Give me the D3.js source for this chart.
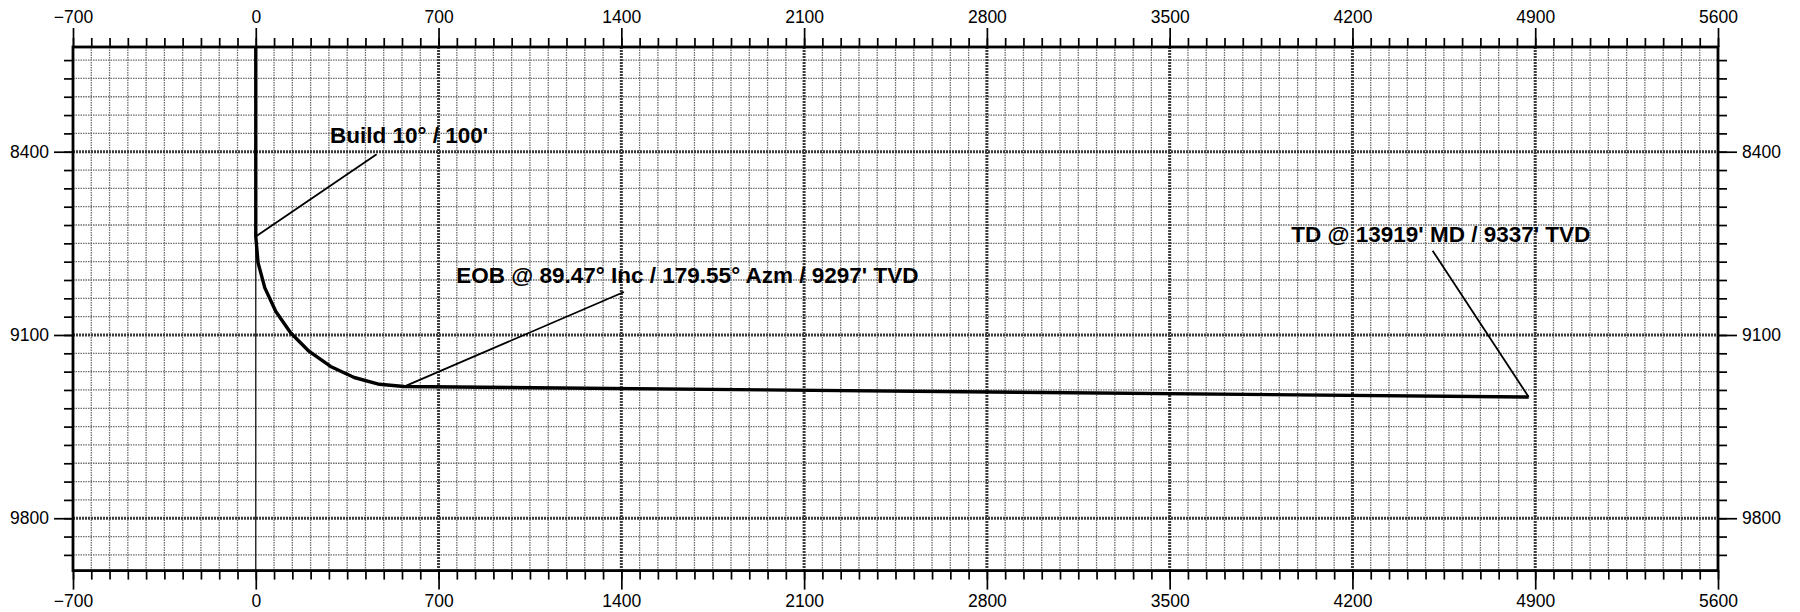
<!DOCTYPE html>
<html>
<head>
<meta charset="utf-8">
<script src="https://cdn.jsdelivr.net/npm/d3@7"></script>
<style>
  html, body { margin: 0; padding: 0; background: #fff; }
  svg { display: block; }
</style>
</head>
<body>
<svg id="chart"></svg>
<script>
// labelled ticks (ft) on both axes
const xLabels = [-700, 0, 700, 1400, 2100, 2800, 3500, 4200, 4900, 5600];
const yLabels = [8400, 9100, 9800];
const minorStep = 70;

// well path: vertical section (ft) vs TVD (ft)
const wellDisp = [0, 0, 8.7, 34.6, 76.8, 134.1, 204.7, 286.5, 377.0, 473.5, 567.7, 4875];
const wellTVD = [8000, 8724, 8823.5, 8920, 9010.5, 9092.3, 9162.9, 9220.2, 9262.4, 9288.3, 9297, 9337];

// annotation texts with their anchor and leader end (data units)
const noteText = [
  "Build 10° / 100'",
  "EOB @ 89.47° Inc / 179.55° Azm / 9297' TVD",
  "TD @ 13919' MD / 9337' TVD",
];
const noteAt = [[284, 8368], [768, 8903], [3966, 8744]];
const leaderFrom = [[463, 8410], [1410, 8936], [4507, 8778]];
const leaderTo = [[0, 8724], [567.7, 9297], [4875, 9337]];

const width = 1800;
const height = 612;

const svg = d3.select("#chart").attr("width", width).attr("height", height);
svg.append("rect").attr("width", width).attr("height", height).attr("fill", "#fff");

const x = d3.scaleLinear().domain([-700, 5600]).range([73, 1718]);
const y = d3.scaleLinear().domain([8000, 10000]).range([47, 570.6]);

const [x0, x1] = x.domain();
const [y0, y1] = y.domain();
const xMinor = d3.range(x0, x1 + 1, minorStep);
const yMinor = d3.range(Math.ceil(y0 / minorStep) * minorStep, y1, minorStep);
const isMajor = (v) => v % 700 === 0;

// grid, minor first (scanned paper look: grey dotted)
const grid = svg.append("g");
grid.append("g")
  .selectAll("line")
  .data(xMinor.filter((v) => !isMajor(v)))
  .join("line")
  .attr("x1", (d) => x(d)).attr("x2", (d) => x(d))
  .attr("y1", y(y0)).attr("y2", y(y1))
  .attr("stroke", "#6e6e6e").attr("stroke-width", 1.3).attr("stroke-dasharray", "1.5,1");
grid.append("g")
  .selectAll("line")
  .data(yMinor.filter((v) => !isMajor(v)))
  .join("line")
  .attr("x1", x(x0)).attr("x2", x(x1))
  .attr("y1", (d) => y(d)).attr("y2", (d) => y(d))
  .attr("stroke", "#6e6e6e").attr("stroke-width", 1.3).attr("stroke-dasharray", "1.5,1");

grid.append("g")
  .selectAll("line")
  .data(xLabels.filter((v) => v > x0 && v < x1 && v !== 0))
  .join("line")
  .attr("x1", (d) => x(d)).attr("x2", (d) => x(d))
  .attr("y1", y(y0)).attr("y2", y(y1))
  .attr("stroke", "#3c3c3c").attr("stroke-width", 3).attr("stroke-dasharray", "2,1");
grid.append("g")
  .selectAll("line")
  .data(yLabels)
  .join("line")
  .attr("x1", x(x0)).attr("x2", x(x1))
  .attr("y1", (d) => y(d)).attr("y2", (d) => y(d))
  .attr("stroke", "#3c3c3c").attr("stroke-width", 3).attr("stroke-dasharray", "2,1");

// zero section line is drawn solid
grid.append("line")
  .attr("x1", x(0)).attr("x2", x(0))
  .attr("y1", y(y0)).attr("y2", y(y1))
  .attr("stroke", "#111").attr("stroke-width", 1.3);

// axes: short ticks every 70 ft, long labelled ticks every 700 ft
const axisFont = "'Liberation Sans', Arial, sans-serif";
const styleAxis = (g) => {
  g.select(".domain").remove();
  g.selectAll(".tick line").attr("stroke", "#000").attr("stroke-width", 1.7);
  g.selectAll("text").attr("fill", "#000").style("font-family", axisFont).style("font-size", "17.5px");
};

const sides = [
  { make: d3.axisTop, scale: x, minor: xMinor, labels: xLabels, at: `translate(0,${y(y0)})` },
  { make: d3.axisBottom, scale: x, minor: xMinor, labels: xLabels, at: `translate(0,${y(y1)})` },
  { make: d3.axisLeft, scale: y, minor: yMinor, labels: yLabels, at: `translate(${x(x0)},0)` },
  { make: d3.axisRight, scale: y, minor: yMinor, labels: yLabels, at: `translate(${x(x1)},0)` },
];
sides.forEach((s) => {
  svg.append("g")
    .attr("transform", s.at)
    .call(s.make(s.scale).tickValues(s.minor).tickSize(9).tickFormat(""))
    .call(styleAxis);
  svg.append("g")
    .attr("transform", s.at)
    .call(s.make(s.scale).tickValues(s.labels).tickSize(19).tickPadding(5).tickFormat(d3.format("d")))
    .call(styleAxis);
});

// frame
svg.append("rect")
  .attr("x", x(x0)).attr("y", y(y0))
  .attr("width", x(x1) - x(x0)).attr("height", y(y1) - y(y0))
  .attr("fill", "none").attr("stroke", "#000").attr("stroke-width", 2.8);

// well path
const line = d3.line().x((d) => x(d[0])).y((d) => y(d[1]));
svg.append("path")
  .datum(wellDisp.map((d, i) => [d, wellTVD[i]]))
  .attr("d", line)
  .attr("fill", "none")
  .attr("stroke", "#000")
  .attr("stroke-width", 3.4)
  .attr("stroke-linejoin", "round");

// annotations
const notes = svg.append("g");
noteText.forEach((t, i) => {
  notes.append("line")
    .attr("x1", x(leaderFrom[i][0])).attr("y1", y(leaderFrom[i][1]))
    .attr("x2", x(leaderTo[i][0])).attr("y2", y(leaderTo[i][1]))
    .attr("stroke", "#000").attr("stroke-width", 1.8);
  notes.append("text")
    .attr("x", x(noteAt[i][0]))
    .attr("y", y(noteAt[i][1]))
    .attr("fill", "#000")
    .style("font-family", axisFont)
    .style("font-weight", "bold")
    .style("font-size", "22.5px")
    .text(t);
});
</script>
</body>
</html>
